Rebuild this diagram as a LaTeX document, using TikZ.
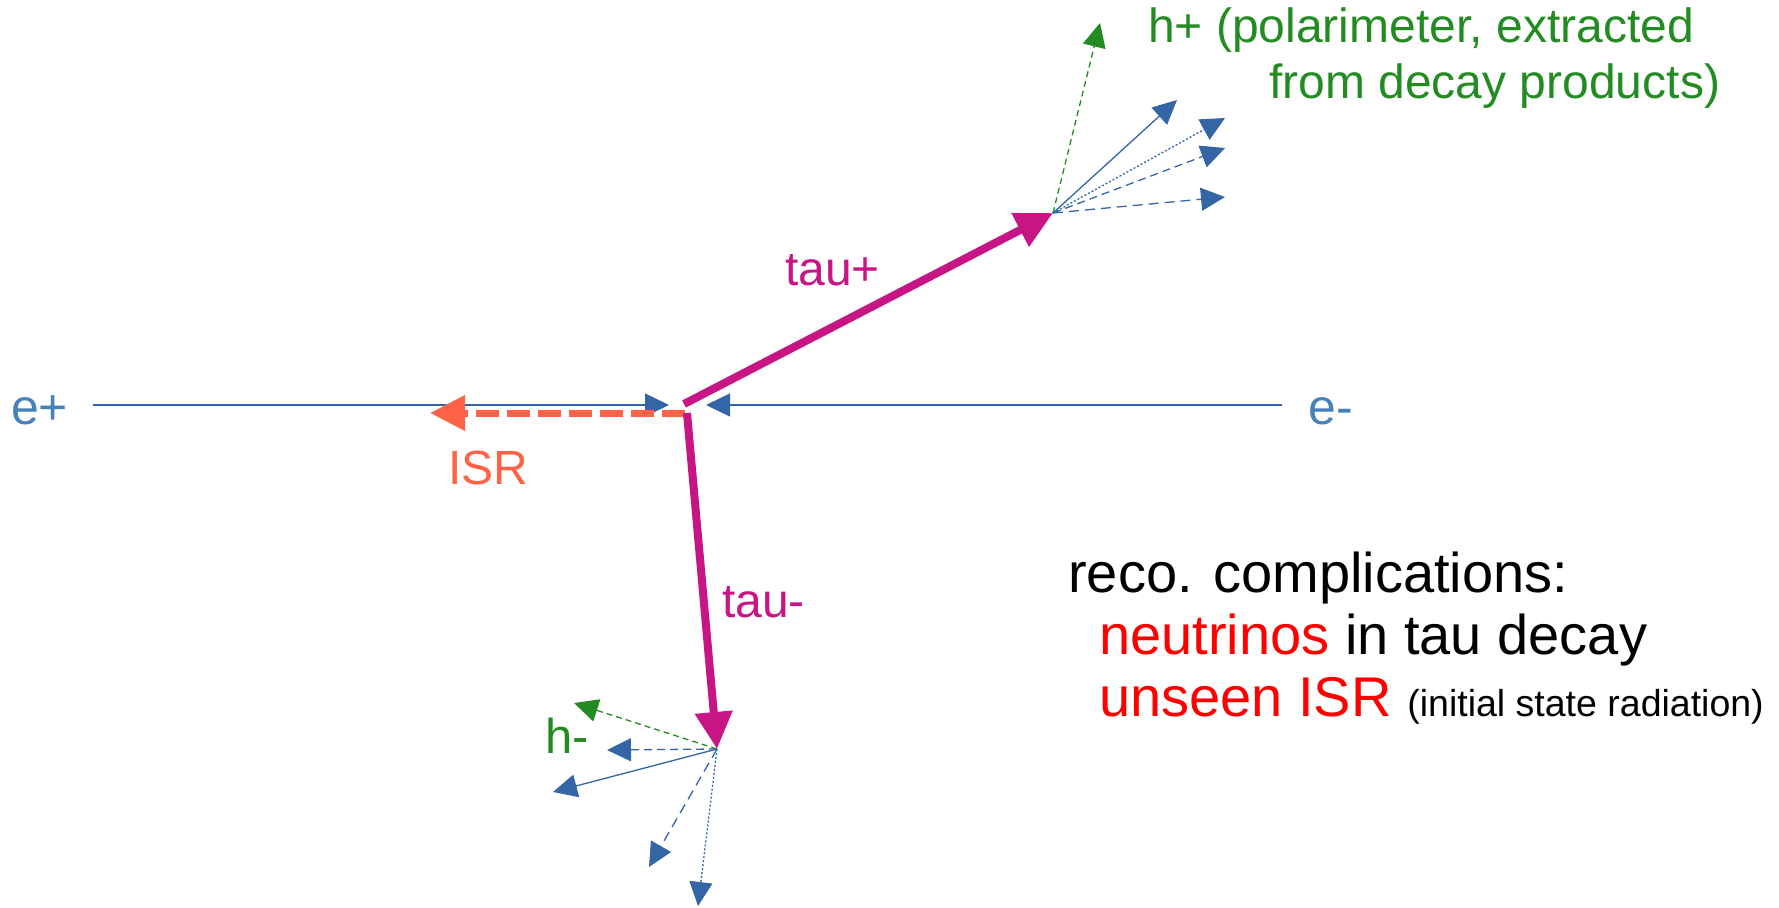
\documentclass[tikz,border=0pt]{standalone}
\usepackage{fontspec}
\setmainfont{Liberation Sans}
\usetikzlibrary{arrows.meta}

\definecolor{beamblue}{RGB}{52,101,164}
\definecolor{elabel}{RGB}{70,130,185}
\definecolor{taucol}{RGB}{199,21,133}
\definecolor{isrcol}{RGB}{255,99,71}
\definecolor{polgreen}{RGB}{34,139,34}
\definecolor{alertred}{RGB}{255,0,0}

\begin{document}
\begin{tikzpicture}[x=1pt,y=-1pt,
  beam/.style={draw=beamblue, line width=1.3pt, -{Triangle[length=24pt,width=23pt]}},
  taupath/.style={draw=taucol, line width=8pt, -{Triangle[length=37pt,width=36pt]}},
  isrpath/.style={draw=isrcol, line width=7pt, dash pattern=on 23pt off 8pt, -{Triangle[length=35pt,width=34pt]}},
  prod/.style={draw=beamblue, line width=1.3pt, -{Triangle[length=24pt,width=23pt]}},
  polvec/.style={draw=polgreen, line width=1.3pt, dash pattern=on 6pt off 4pt, -{Triangle[length=24pt,width=23pt]}},
  prodsolid/.style={prod},
  proddash/.style={prod, dash pattern=on 8pt off 5pt},
  proddashlong/.style={prod, dash pattern=on 10pt off 6pt},
  proddot/.style={prod, dash pattern=on 2pt off 2pt},
  lbl/.style={inner sep=0pt, anchor=base west},
  bigfont/.style={font=\fontsize{56}{62}\selectfont},
  midfont/.style={font=\fontsize{48}{54}\selectfont}]

\useasboundingbox (0,0) rectangle (1779,907);

% beam and vertex points
\coordinate (epstart) at (93,405);
\coordinate (eptip)   at (669,405);
\coordinate (emstart) at (1282,405);
\coordinate (emtip)   at (706,405);
\coordinate (isrstart) at (685,413);
\coordinate (isrtip)   at (430,413);
\coordinate (vtxp) at (684,404);
\coordinate (vtxm) at (687,413);
\coordinate (decp) at (1053,213);
\coordinate (decm) at (717,749);

% tau+ decay products
\coordinate (hplus) at (1100,23);
\coordinate (pa) at (1177,100);
\coordinate (pb) at (1225,118);
\coordinate (pc) at (1225,148);
\coordinate (pd) at (1225,197);

% tau- decay products
\coordinate (hminus) at (574,703);
\coordinate (ma) at (607,750);
\coordinate (mb) at (553,792);
\coordinate (mc) at (649,867);
\coordinate (md) at (698,906);

% incoming beams
\draw[beam] (epstart) -- (eptip);
\draw[beam] (emstart) -- (emtip);

% initial state radiation
\draw[isrpath] (isrstart) -- (isrtip);

% tau pair
\draw[taupath] (vtxp) -- (decp);
\draw[taupath] (vtxm) -- (decm);

% tau+ decay
\draw[polvec] (decp) -- (hplus);
\draw[prodsolid] (decp) -- (pa);
\draw[proddot] (decp) -- (pb);
\draw[proddash] (decp) -- (pc);
\draw[proddashlong] (decp) -- (pd);

% tau- decay
\draw[polvec] (decm) -- (hminus);
\draw[proddash] (decm) -- (ma);
\draw[prodsolid] (decm) -- (mb);
\draw[proddashlong] (decm) -- (mc);
\draw[proddot] (decm) -- (md);

% labels
\node[lbl, font=\fontsize{50}{56}\selectfont, text=elabel] (eplus) at (11,424) {e+};
\node[lbl, font=\fontsize{50}{56}\selectfont, text=elabel] (eminus) at (1308,424) {e-};
\node[lbl, midfont, text=isrcol] (isrlbl) at (448,484) {ISR};
\node[lbl, midfont, text=taucol] (taup) at (785,285) {tau+};
\node[lbl, midfont, text=taucol] (taum) at (722,617) {tau-};
\node[lbl, font=\fontsize{49}{54}\selectfont, text=polgreen] (hm) at (545,753) {h-};
\node[lbl, font=\fontsize{48}{54}\selectfont, text=polgreen] (hp1) at (1148,43) {h+ (polarimeter, extracted};
\node[lbl, font=\fontsize{48}{54}\selectfont, text=polgreen] (hp2) at (1269,98) {from decay products)};

% reconstruction notes
\node[lbl, bigfont] (reco) at (1068,592) {reco. complications:};
\node[lbl, bigfont] (nu) at (1099,654) {\textcolor{alertred}{neutrinos} in tau decay};
\node[lbl, bigfont] (unseen) at (1099,716) {\textcolor{alertred}{unseen ISR} {\fontsize{37.5}{42}\selectfont(initial state radiation)}};

\end{tikzpicture}
\end{document}
